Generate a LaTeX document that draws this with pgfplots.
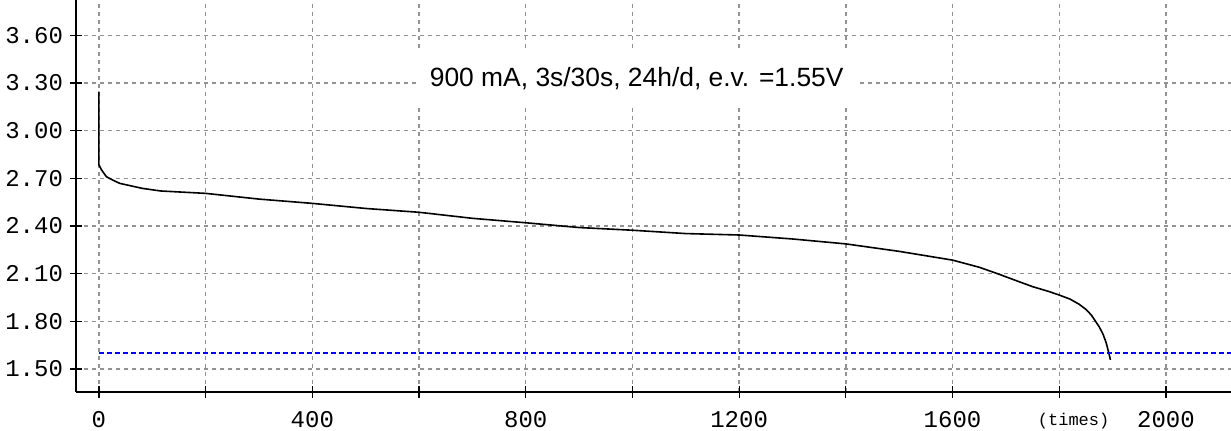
\documentclass[border=0pt]{standalone}
\usepackage{pgfplots}
\pgfplotsset{compat=1.18}
\usepackage{fontspec}
\setmainfont{Liberation Sans}
\setmonofont{Liberation Mono}

\begin{document}
\begin{tikzpicture}
\begin{axis}[
    scale only axis,
    width=577.5pt, height=196pt,
    xmin=-43, xmax=2122,
    ymin=1.355, ymax=3.822,
    axis x line=bottom, axis y line=left,
    axis line style={-, line width=1pt, black},
    xtick={0,200,...,2000},
    xticklabels={0,,400,,800,,1200,,1600,,2000},
    ytick={1.5,1.8,2.1,2.4,2.7,3.0,3.3,3.6},
    yticklabels={1.50,1.80,2.10,2.40,2.70,3.00,3.30,3.60},
    tick align=center,
    major tick length=6pt,
    tick style={black, line width=0.6pt},
    ticklabel style={font=\ttfamily\fontsize{12}{12}\selectfont},
    xticklabel style={yshift=-3pt},
    grid=major,
    grid style={gray!85, line width=0.7pt, dash pattern=on 2.2pt off 1.8pt},
    clip=false,
]
% discharge curve
\addplot[black, line width=0.8pt] coordinates {
    (0,3.245) (0,2.784) (5,2.752) (14,2.71) (25,2.69) (39,2.668)
    (82,2.636) (116,2.62) (200,2.605) (300,2.569) (400,2.542)
    (500,2.51) (600,2.486) (700,2.448) (800,2.42) (900,2.39)
    (1000,2.373) (1100,2.352) (1200,2.343) (1300,2.318) (1400,2.287)
    (1500,2.24) (1600,2.185) (1650,2.14) (1684,2.10) (1720,2.055)
    (1750,2.018) (1780,1.988) (1800,1.965) (1820,1.94) (1837,1.908)
    (1850,1.875) (1860,1.84) (1868,1.80) (1875,1.765) (1882,1.72)
    (1888,1.665) (1893,1.60) (1896,1.557)
};
% end voltage line
\addplot[blue, line width=0.7pt, dash pattern=on 2.5pt off 1.5pt] coordinates {(0,1.6) (2122,1.6)};
\node[fill=white, inner xsep=6pt, inner ysep=9pt, font=\fontsize{13.2}{13.2}\selectfont]
    at (axis cs:1008,3.325) {900 mA, 3s/30s, 24h/d, e.v. =1.55V};
\node[font=\ttfamily\fontsize{8.5}{8.5}\selectfont, anchor=north]
    at (axis cs:1827,1.355) [yshift=-7pt] {(times)};
\end{axis}
\pgfresetboundingbox
\useasboundingbox (current axis.south west) ++(-38pt,-19.5pt) rectangle (current axis.north east);
\end{tikzpicture}
\end{document}
